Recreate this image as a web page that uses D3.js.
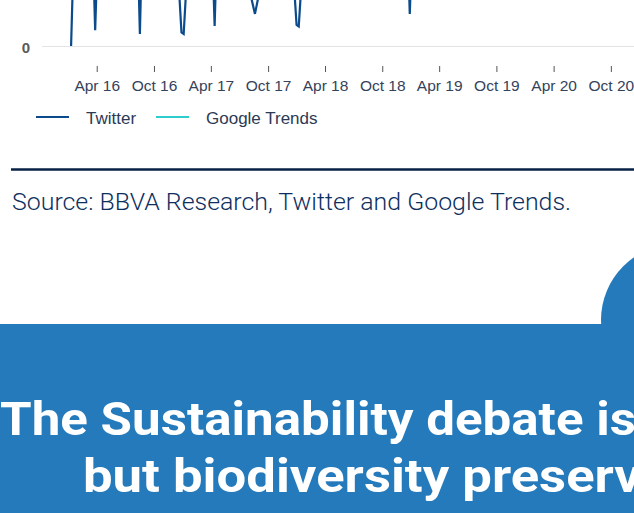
<!DOCTYPE html>
<head>
    <script src="https://cdn.jsdelivr.net/npm/d3@7/dist/d3.min.js"></script>
    <style>
        body { margin: 0; background: #fff; }
        svg { display: block; }
        .x.axis text { font: 15.5px "Liberation Sans", Arial, sans-serif; fill: #34425a; }
        .x.axis line { stroke: #555; }
        .y.axis text { font: bold 15px "Liberation Sans", Arial, sans-serif; fill: #5a5a5a; }
        .y.axis line { stroke: #e4e4e4; }
        .legend text { font: 17px "Liberation Sans", Arial, sans-serif; fill: #2c3a55; }
        .line { fill: none; stroke-width: 2.2px; }
        .source { font-family: Roboto, "Noto Sans", sans-serif; font-weight: 300; font-size: 24.5px; fill: #0d2f5e; }
        .title { font-family: Roboto, "Noto Sans", sans-serif; font-weight: 700; font-size: 47px; fill: #fff; }
    </style>
</head>
<body>
<div id="chart"></div>
<script type="text/javascript">
    // twitter: weekly mentions (only the low part of the chart is visible)
    var twitterDates = ["2016-01-10", "2016-01-17", "2016-02-07", "2016-03-06", "2016-03-20", "2016-03-27", "2016-04-03",
        "2016-05-01", "2016-06-05", "2016-07-03", "2016-08-10", "2016-08-17", "2016-08-24", "2016-09-25", "2016-10-30",
        "2016-11-27", "2016-12-14", "2016-12-28", "2017-01-04", "2017-01-18", "2017-02-12", "2017-03-12", "2017-04-06",
        "2017-04-13", "2017-04-20", "2017-05-21", "2017-06-18", "2017-07-16", "2017-08-06", "2017-08-20", "2017-09-03",
        "2017-10-08", "2017-11-12", "2017-12-17", "2017-12-31", "2018-01-07", "2018-01-21", "2018-02-25", "2018-04-01",
        "2018-05-06", "2018-06-10", "2018-07-15", "2018-08-19", "2018-09-23", "2018-10-28", "2018-12-02", "2018-12-21",
        "2018-12-28", "2019-01-04", "2019-02-10", "2019-03-17", "2019-04-21", "2019-05-26", "2019-06-30", "2019-08-04",
        "2019-09-22", "2019-10-27", "2019-11-24", "2019-12-15", "2020-01-19", "2020-02-23", "2020-03-29", "2020-05-03",
        "2020-06-07", "2020-07-12", "2020-08-16", "2020-09-20", "2020-10-25", "2020-11-29", "2020-12-13"];
    var twitterValues = [0, 2600, 3400, 2900, 3100, 530, 2800,
        3600, 4200, 3900, 3300, 400, 3500, 4400, 4100,
        3800, 3000, 450, 400, 3000, 3700, 3400, 3000,
        670, 3200, 4300, 4600, 3900, 1700, 1070, 1800,
        4100, 4500, 3000, 700, 650, 3000, 4200, 4800,
        5200, 4900, 4400, 4700, 5300, 5600, 4800, 3500,
        1070, 3200, 5400, 6200, 5900, 6800, 6300, 5700,
        8400, 7200, 6900, 7600, 6700, 6100, 4300, 4800,
        5500, 5200, 4900, 5800, 6100, 5900, 6300];

    // google trends index (0-100)
    var googleDates = ["2016-01-10", "2016-04-03", "2016-07-03", "2016-10-02", "2017-01-01", "2017-04-02", "2017-07-02",
        "2017-10-01", "2018-01-07", "2018-04-01", "2018-07-01", "2018-10-07", "2019-01-06", "2019-04-07", "2019-07-07",
        "2019-09-22", "2019-12-01", "2020-03-01", "2020-06-07", "2020-09-06", "2020-12-13"];
    var googleValues = [42, 38, 35, 40, 44, 41, 37, 46, 50, 48, 45, 55, 60, 68, 72, 100, 85, 62, 70, 78, 74];

    var tickDates = ["2016-04-01", "2016-10-01", "2017-04-01", "2017-10-01", "2018-04-01", "2018-10-01",
        "2019-04-01", "2019-10-01", "2020-04-01", "2020-10-01"];
    var tickLabels = ["Apr 16", "Oct 16", "Apr 17", "Oct 17", "Apr 18", "Oct 18", "Apr 19", "Oct 19", "Apr 20", "Oct 20"];
    var yTicks = [0]; // only the zero line is inside the visible crop

    var seriesNames = ["Twitter", "Google Trends"];
    var seriesColors = ["#0b4a8b", "#2dcccd"];

    var sourceText = "Source: BBVA Research, Twitter and Google Trends.";
    var titleLines = ["The Sustainability debate is", "but biodiversity preserv"];

    var W = 634, H = 513;
    var parse = d3.timeParse("%Y-%m-%d");

    var svg = d3.select("#chart").append("svg")
        .attr("width", W)
        .attr("height", H);

    var xScale = d3.scaleTime()
        .domain([parse("2015-10-09"), parse("2020-12-14")])
        .range([42, 634]);
    var yScale = d3.scaleLinear().domain([0, 10000]).range([46, -254]);
    var gScale = d3.scaleLinear().domain([0, 100]).range([46, -254]);

    // grid + zero label
    var yAxis = d3.axisLeft(yScale).tickValues(yTicks).tickSize(-(634 - 42)).tickPadding(12);
    svg.append("g")
        .attr("class", "y axis")
        .attr("transform", "translate(42,0)")
        .call(yAxis)
        .call(function (g) { g.select(".domain").remove(); })
        .selectAll("text").attr("dy", "0.45em");

    var xAxis = d3.axisBottom(xScale)
        .tickValues(tickDates.map(parse))
        .tickSize(6)
        .tickPadding(8)
        .tickFormat(function (d, i) { return tickLabels[i]; });
    svg.append("g")
        .attr("class", "x axis")
        .attr("transform", "translate(0,66)")
        .call(xAxis)
        .call(function (g) { g.select(".domain").remove(); });

    var twitter = twitterDates.map(function (d, i) { return {date: parse(d), v: twitterValues[i]}; });
    var google = googleDates.map(function (d, i) { return {date: parse(d), v: googleValues[i]}; });

    var plot = svg.append("g");
    plot.append("path")
        .datum(google)
        .attr("class", "line")
        .attr("stroke", seriesColors[1])
        .attr("d", d3.line().x(function (d) { return xScale(d.date); }).y(function (d) { return gScale(d.v); }));
    plot.append("path")
        .datum(twitter)
        .attr("class", "line")
        .attr("stroke", seriesColors[0])
        .attr("d", d3.line().x(function (d) { return xScale(d.date); }).y(function (d) { return yScale(d.v); }));

    // legend
    var legendX = [36, 156];
    var legend = svg.append("g").attr("class", "legend");
    seriesNames.forEach(function (name, i) {
        legend.append("line")
            .attr("x1", legendX[i]).attr("x2", legendX[i] + 33)
            .attr("y1", 117).attr("y2", 117)
            .attr("stroke", seriesColors[i])
            .attr("stroke-width", 2);
        legend.append("text")
            .attr("x", legendX[i] + 50)
            .attr("y", 124)
            .text(name);
    });

    // rule + source
    svg.append("line")
        .attr("x1", 11).attr("x2", W)
        .attr("y1", 169.5).attr("y2", 169.5)
        .attr("stroke", "#072146")
        .attr("stroke-width", 2.6);
    svg.append("text")
        .attr("class", "source")
        .attr("x", 12)
        .attr("y", 209.5)
        .attr("textLength", 559)
        .attr("lengthAdjust", "spacingAndGlyphs")
        .text(sourceText);

    // blue banner
    svg.append("circle")
        .attr("cx", 677).attr("cy", 320).attr("r", 76)
        .attr("fill", "#247abb");
    svg.append("rect")
        .attr("x", 0).attr("y", 324)
        .attr("width", W).attr("height", H - 324)
        .attr("fill", "#247abb");

    var titleX = [0, 83], titleY = [435, 492], titleLen = [636, 558];
    svg.selectAll(".title").data(titleLines).enter()
        .append("text")
        .attr("class", "title")
        .attr("x", function (d, i) { return titleX[i]; })
        .attr("y", function (d, i) { return titleY[i]; })
        .attr("textLength", function (d, i) { return titleLen[i]; })
        .attr("lengthAdjust", "spacingAndGlyphs")
        .text(function (d) { return d; });
</script>
</body>
</html>
